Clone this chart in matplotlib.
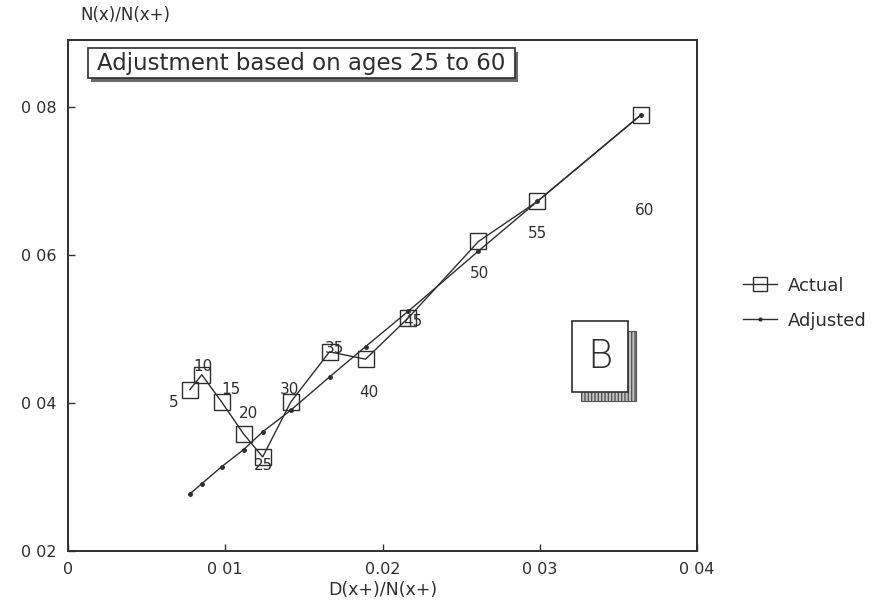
import matplotlib
matplotlib.use("Agg")
import matplotlib.pyplot as plt
from matplotlib.patches import Rectangle

plt.rcParams['font.family'] = ['DejaVu Sans']

# ---- data ----
ages = ["5", "10", "15", "20", "25", "30", "35", "40", "45", "50", "55", "60"]
d_over_n = [0.00775, 0.00851, 0.00978, 0.01117, 0.01238, 0.01416,
            0.01663, 0.01892, 0.02165, 0.02610, 0.02984, 0.03644]
actual = [0.0418, 0.0438, 0.0401, 0.0358, 0.0327, 0.0401,
          0.0469, 0.0459, 0.0515, 0.0618, 0.0672, 0.0789]
adjusted = [0.0277, 0.0291, 0.0314, 0.0337, 0.0361, 0.0390,
            0.0435, 0.0476, 0.0524, 0.0605, 0.0672, 0.0789]
xticks = [0, 0.01, 0.02, 0.03, 0.04]
xticklabels = ["0", "0 01", "0.02", "0 03", "0 04"]
yticks = [0.02, 0.04, 0.06, 0.08]
yticklabels = ["0 02", "0 04", "0 06", "0 08"]

# label offsets (pixels) for the age annotations
label_offsets = [(-16, -13), (1, 8), (9, 13), (5, 21), (1, -9), (-1, 13),
                 (5, 3), (3, -33), (4, -4), (1, -32), (0, -32), (4, -96)]

ink = "#2e2e2e"

fig = plt.figure(figsize=(8.84, 6.10), dpi=100)
ax = fig.add_axes([0.0769, 0.0967, 0.7116, 0.8377])

ax.plot(d_over_n, adjusted, color=ink, lw=1.0, marker='o', ms=2.5,
        mfc=ink, mec=ink, label="Adjusted", zorder=2)
ax.plot(d_over_n, actual, color=ink, lw=1.0, marker='s', ms=12,
        mfc='none', mec=ink, mew=1.0, label="Actual", zorder=3)

for age, x, y, (dx, dy) in zip(ages, d_over_n, actual, label_offsets):
    ax.annotate(age, (x, y), xytext=(dx, dy), textcoords='offset pixels',
                ha='center', va='center', fontsize=11, color=ink)

ax.set_xlim(0, 0.04)
ax.set_ylim(0.02, 0.089)
ax.set_xticks(xticks)
ax.set_xticklabels(xticklabels, fontsize=11.5, color=ink)
ax.set_yticks(yticks)
ax.set_yticklabels(yticklabels, fontsize=11.5, color=ink)
ax.tick_params(direction='in', length=5, width=1, colors=ink, pad=8)
for sp in ax.spines.values():
    sp.set_color(ink)
    sp.set_linewidth(1.4)

ax.set_xlabel("D(x+)/N(x+)", fontsize=12.5, color=ink, labelpad=3)
fig.text(0.142, 0.975, "N(x)/N(x+)", fontsize=12, color=ink,
         ha='center', va='center')

# title box with shadow
tx0, ty0, tw, th = 0.0995, 0.872, 0.483, 0.049
fig.patches.append(Rectangle((tx0 + 0.004, ty0 - 0.006), tw, th,
                             transform=fig.transFigure, facecolor='#6a6a6a',
                             edgecolor='none', zorder=5))
fig.patches.append(Rectangle((tx0, ty0), tw, th, transform=fig.transFigure,
                             facecolor='white', edgecolor=ink, lw=1.2, zorder=6))
fig.text(tx0 + tw / 2, ty0 + th / 2, "Adjustment based on ages 25 to 60",
         fontsize=16.5, color=ink, ha='center', va='center', zorder=7)

# "B" panel badge with hatched shadow
bx0, by0, bw, bh = 0.647, 0.358, 0.063, 0.115
fig.patches.append(Rectangle((bx0 + 0.010, by0 - 0.016), bw, bh,
                             transform=fig.transFigure, facecolor='#c4c4c4',
                             edgecolor='#555555', hatch='|||||', lw=0.8, zorder=5))
fig.patches.append(Rectangle((bx0, by0), bw, bh, transform=fig.transFigure,
                             facecolor='white', edgecolor=ink, lw=1.2, zorder=6))
fig.text(bx0 + bw / 2, by0 + bh / 2, "B", fontsize=28, color=ink,
         ha='center', va='center', zorder=7, fontweight='light')

handles, labels = ax.get_legend_handles_labels()
leg = fig.legend([handles[1], handles[0]], [labels[1], labels[0]],
                 loc='center left', bbox_to_anchor=(0.822, 0.503),
                 frameon=False, fontsize=13, handlelength=1.9,
                 handletextpad=0.6, labelspacing=0.95, markerscale=0.8)
for t in leg.get_texts():
    t.set_color(ink)

fig.savefig("out.png", dpi=100)
